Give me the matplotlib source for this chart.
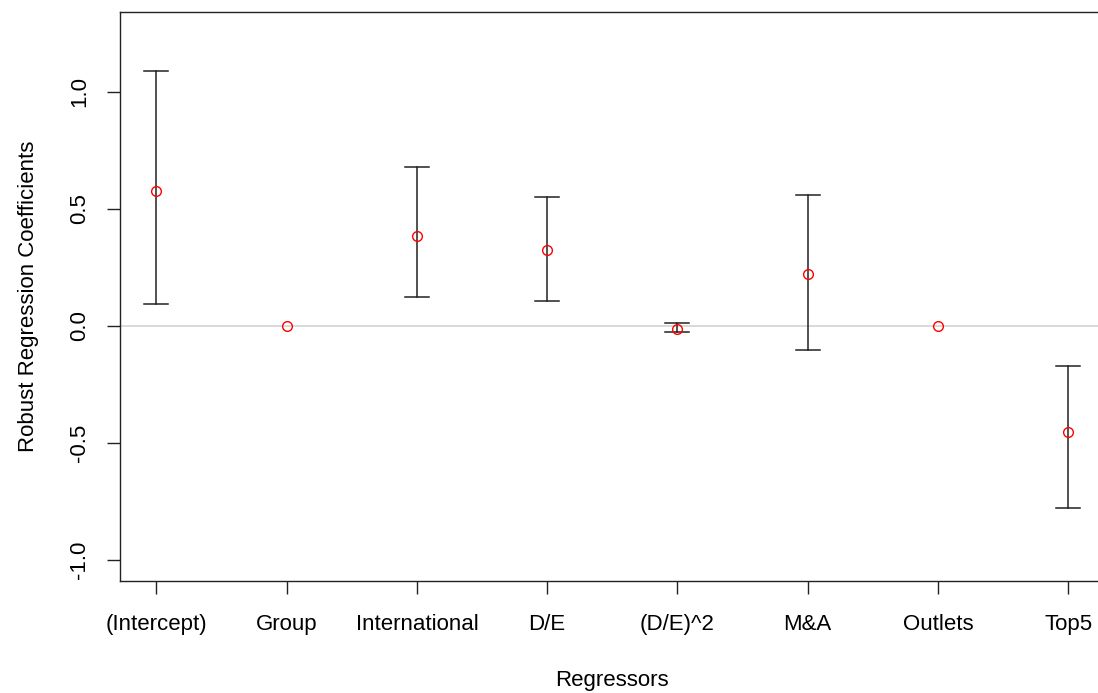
import matplotlib
matplotlib.use("Agg")
import matplotlib.pyplot as plt
import numpy as np

# coefficient estimates with lower / upper bounds
regressors = ["(Intercept)", "Group", "International", "D/E", "(D/E)^2", "M&A", "Outlets", "Top5"]
coef = [0.576, 0.0, 0.384, 0.324, -0.013, 0.222, 0.0, -0.451]
lower = [0.094, 0.0, 0.124, 0.107, -0.027, -0.102, 0.0, -0.778]
upper = [1.090, 0.0, 0.679, 0.551, 0.011, 0.559, 0.0, -0.170]

plt.rcParams["font.family"] = ["Liberation Sans", "DejaVu Sans"]

fig = plt.figure(figsize=(10.98, 6.93), dpi=100)
ax = fig.add_axes([0.1093, 0.1612, 0.8967, 0.8215])

x = np.arange(1, len(regressors) + 1)
ax.axhline(0, color="#d3d3d3", lw=1.2, zorder=1)

# error bars only where the interval is not degenerate
for xi, lo, hi in zip(x, lower, upper):
    if hi - lo > 0:
        ax.plot([xi, xi], [lo, hi], color="#222222", lw=1.1, zorder=2)
        ax.plot([xi - 0.092, xi + 0.092], [lo, lo], color="#222222", lw=1.1, zorder=2)
        ax.plot([xi - 0.092, xi + 0.092], [hi, hi], color="#222222", lw=1.1, zorder=2)

ax.plot(x, coef, "o", mfc="none", mec="red", ms=7, mew=1, zorder=3)

ax.set_xlim(0.72, 8.28)
ax.set_ylim(-1.09, 1.34)
ax.set_xticks(x)
ax.set_xticklabels(regressors)
ax.set_yticks([-1.0, -0.5, 0.0, 0.5, 1.0])
ax.set_yticklabels(["-1.0", "-0.5", "0.0", "0.5", "1.0"], rotation=90, va="center")

ax.tick_params(axis="both", length=9.5, width=1, color="#222222", labelsize=16)
ax.tick_params(axis="y", pad=12)
ax.tick_params(axis="x", pad=14)
for s in ax.spines.values():
    s.set_color("#222222")
    s.set_linewidth(1)

ax.set_xlabel("Regressors", fontsize=16, labelpad=25)
ax.set_ylabel("Robust Regression Coefficients", fontsize=16, labelpad=22)

fig.savefig("out.png", dpi=100)
